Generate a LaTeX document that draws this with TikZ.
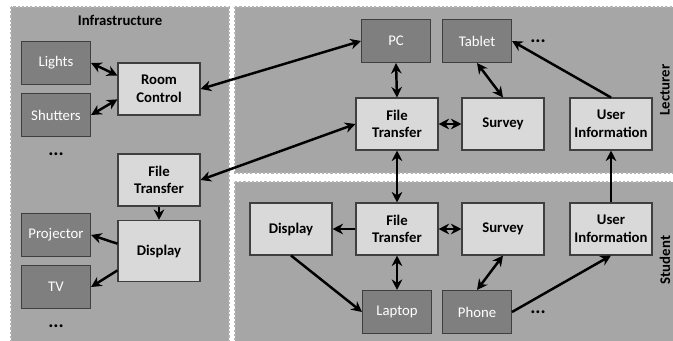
\documentclass[tikz,border=0pt]{standalone}
\usepackage{fontspec}
\setmainfont{Carlito}
\usetikzlibrary{arrows.meta}

\definecolor{panelgray}{HTML}{A6A6A6}
\definecolor{lightbox}{HTML}{D9D9D9}
\definecolor{darkbox}{HTML}{7F7F7F}
\definecolor{boxline}{HTML}{3F3F3F}

\tikzset{
	panel/.style={fill=panelgray, draw=gray!60, line width=0.6pt, dash pattern=on 1.2pt off 1.2pt},
	service/.style={rectangle, fill=lightbox, draw=boxline, line width=0.6pt, minimum width=1.64cm, minimum height=1.04cm, align=center, font=\fontsize{8.4}{10}\selectfont\bfseries, inner sep=1pt},
	device/.style={rectangle, fill=darkbox, draw=boxline, line width=0.6pt, minimum width=1.38cm, minimum height=0.86cm, text=white, font=\fontsize{8.4}{10}\selectfont, inner sep=1pt},
	title/.style={font=\fontsize{8.4}{10}\selectfont\bfseries},
	dots/.style={font=\fontsize{11}{12}\selectfont\bfseries},
	link/.style={line width=1.4pt, -{Stealth[length=6pt,width=6pt]}},
	biglink/.style={line width=1.4pt, {Stealth[length=6pt,width=6pt]}-{Stealth[length=6pt,width=6pt]}}
}

\begin{document}
\begin{tikzpicture}[x=0.02cm, y=-0.02cm]
	\useasboundingbox (0,0) rectangle (673,341);
	\begin{scope}
	\clip (0,0) rectangle (673,341);
	\fill[white] (0,0) rectangle (673,341);
	\draw[panel] (11,7) rectangle (229,350);
	\draw[panel] (235,7) rectangle (690,173);
	\draw[panel] (235,182) rectangle (690,350);
	\end{scope}

	% Infrastructure
	\node[title] (infratitle) at (120,20) {Infrastructure};
	\node[device] (lights) at (56,63) {Lights};
	\node[device] (shutters) at (56,115) {Shutters};
	\node[dots] (infradots1) at (56,154) {...};
	\node[service] (roomctrl) at (159,89) {Room\\Control};
	\node[service] (infraft) at (159,180) {File\\Transfer};
	\node[service, minimum height=1.22cm] (infradisp) at (159,251) {Display};
	\node[device] (projector) at (56,235) {Projector};
	\node[device] (tv) at (56,287) {TV};
	\node[dots] (infradots2) at (56,326) {...};

	% Lecturer
	\node[title, rotate=90] (lectitle) at (665,90) {Lecturer};
	\node[device] (pc) at (396,41) {PC};
	\node[device] (tablet) at (477,41) {Tablet};
	\node[dots] (lecdots) at (538,41) {...};
	\node[service] (lecft) at (397,124) {File\\Transfer};
	\node[service] (lecsurvey) at (503,124) {Survey};
	\node[service] (lecinfo) at (611,124) {User\\Information};

	% Student
	\node[title, rotate=90] (studtitle) at (665,260) {Student};
	\node[service] (studdisp) at (291,229) {Display};
	\node[service] (studft) at (397,229) {File\\Transfer};
	\node[service] (studsurvey) at (503,229) {Survey};
	\node[service] (studinfo) at (611,229) {User\\Information};
	\node[device] (laptop) at (397,312) {Laptop};
	\node[device] (phone) at (477,312) {Phone};
	\node[dots] (studdots) at (538,312) {...};

	% connectors
	\draw[biglink] (lights.east) -- (roomctrl.162);
	\draw[biglink] (shutters.east) -- (roomctrl.194);
	\draw[biglink] (roomctrl.east) -- (pc.west);
	\draw[biglink] (infraft.east) -- (lecft.west);
	\draw[link] (infraft.south) -- (infradisp.north);
	\draw[link] (infradisp.170) -- (projector.east);
	\draw[link] (infradisp.205) -- (tv.east);

	\draw[biglink] (pc.south) -- (lecft.north);
	\draw[biglink] (tablet.south) -- (lecsurvey.north);
	\draw[link] (lecinfo.north) -- (tablet.east);
	\draw[biglink] (lecft.east) -- (lecsurvey.west);
	\draw[biglink] (lecft.south) -- (studft.north);
	\draw[link] (studinfo.north) -- (lecinfo.south);

	\draw[link] (studft.west) -- (studdisp.east);
	\draw[biglink] (studft.east) -- (studsurvey.west);
	\draw[biglink] (studft.south) -- (laptop.north);
	\draw[link] (studdisp.south) -- (laptop.west);
	\draw[biglink] (studsurvey.south) -- (phone.north);
	\draw[link] (phone.east) -- (studinfo.south);
\end{tikzpicture}
\end{document}
